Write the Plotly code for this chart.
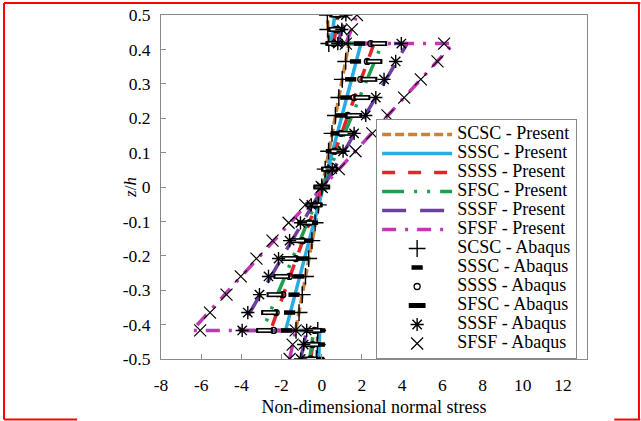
import plotly.graph_objects as go

# ---------------- data ----------------
z_line = [-0.5, -0.417, -0.417, 0.417, 0.417, 0.5]
z_abaqus = [-0.5, -0.458, -0.417,
            -0.417, -0.365, -0.313, -0.26, -0.208, -0.156, -0.104, -0.052, 0.0,
            0.052, 0.104, 0.156, 0.208, 0.26, 0.313, 0.365, 0.417,
            0.417, 0.458, 0.5]

scsc_present = [-0.25, -0.20, -1.30, 1.35, 0.35, 0.28]
sssc_present = [-0.15, -0.10, -1.80, 1.95, 0.45, 0.65]
ssss_present = [-0.55, -0.35, -2.55, 2.60, 0.60, 0.80]
sfsc_present = [-0.60, -0.40, -2.95, 3.00, 0.65, 0.85]
sssf_present = [-1.05, -0.75, -4.10, 4.25, 0.80, 1.20]
sfsf_present = [-1.60, -1.30, -6.45, 6.55, 1.20, 1.75]

scsc_abaqus = [-0.25, -0.22, -0.20,
               -1.28, -1.13, -0.97, -0.81, -0.65, -0.49, -0.33, -0.17, 0.0,
               0.17, 0.34, 0.51, 0.68, 0.85, 1.02, 1.19, 1.33,
               0.35, 0.30, 0.28]
sssc_abaqus = [-0.15, -0.12, -0.10,
               -1.75, -1.60, -1.38, -1.15, -0.92, -0.69, -0.46, -0.23, 0.0,
               0.24, 0.48, 0.72, 0.96, 1.20, 1.44, 1.68, 1.88,
               0.45, 0.55, 0.65]
ssss_abaqus = [-0.55, -0.45, -0.35,
               -2.40, -2.27, -1.94, -1.61, -1.29, -0.96, -0.64, -0.32, 0.0,
               0.32, 0.64, 0.96, 1.29, 1.61, 1.94, 2.27, 2.44,
               0.60, 0.70, 0.80]
sfsc_abaqus = [-0.60, -0.50, -0.40,
               -2.85, -2.60, -2.33, -1.99, -1.60, -1.20, -0.80, -0.40, 0.0,
               0.40, 0.80, 1.20, 1.60, 2.00, 2.35, 2.60, 2.84,
               0.65, 0.75, 0.85]
sssf_abaqus = [-1.05, -0.90, -0.75,
               -3.96, -3.68, -3.10, -2.65, -2.15, -1.60, -1.06, -0.52, 0.0,
               0.52, 1.06, 1.61, 2.19, 2.69, 3.10, 3.68, 3.96,
               0.80, 1.00, 1.20]
sfsf_abaqus = [-1.60, -1.45, -1.30,
               -6.05, -5.56, -4.74, -4.03, -3.25, -2.45, -1.65, -0.82, 0.0,
               0.85, 1.68, 2.52, 3.27, 4.10, 4.93, 5.76, 6.09,
               1.20, 1.50, 1.75]

x_tickvals = [-8, -6, -4, -2, 0, 2, 4, 6, 8, 10, 12]
x_ticktext = ["-8", "-6", "-4", "-2", "0", "2", "4", "6", "8", "10", "12"]
y_tickvals = [-0.5, -0.4, -0.3, -0.2, -0.1, 0, 0.1, 0.2, 0.3, 0.4, 0.5]
y_ticktext = ["-0.5", "-0.4", "-0.3", "-0.2", "-0.1", "0", "0.1", "0.2", "0.3", "0.4", "0.5"]

FONT = "Liberation Serif"


def legend_label(s):
    return "<span style='font-size:18px'>" + s + "</span>"


present = [
    ("SCSC - Present", scsc_present, "#C8823C", "9px,4px"),
    ("SSSC - Present", sssc_present, "#2AACE2", "solid"),
    ("SSSS - Present", ssss_present, "#E1262B", "13px,13px"),
    ("SFSC - Present", sfsc_present, "#1E9E50", "22px,10px,3px,10px,3px,10px"),
    ("SSSF - Present", sssf_present, "#6C3FA0", "24px,14px"),
    ("SFSF - Present", sfsf_present, "#C236B6", "14px,9px,3px,9px"),
]

fig = go.Figure()
for name, xs, col, dash in present:
    fig.add_trace(go.Scatter(x=xs, y=z_line, mode="lines", name=legend_label(name),
                             line=dict(color=col, width=3.5, dash=dash)))

abaqus = [
    ("SCSC - Abaqus", scsc_abaqus, "cross-thin-open", 12, 1.4),
    ("SSSC - Abaqus", sssc_abaqus, "line-ew-open", 8, 4.5),
    ("SSSS - Abaqus", ssss_abaqus, "circle-open", 6, 1.3),
    ("SFSC - Abaqus", sfsc_abaqus, "line-ew-open", 12, 5),
    ("SSSF - Abaqus", sssf_abaqus, "asterisk-open", 11, 1.4),
    ("SFSF - Abaqus", sfsf_abaqus, "x-thin-open", 12, 1.2),
]
for name, xs, sym, size, lw in abaqus:
    fig.add_trace(go.Scatter(x=xs, y=z_abaqus, mode="markers", name=legend_label(name),
                             marker=dict(symbol=sym, size=size, color="black",
                                         line=dict(color="black", width=lw))))
    if name.startswith("SFSC"):
        fig.add_trace(go.Scatter(x=xs, y=z_abaqus, mode="markers", showlegend=False,
                                 hoverinfo="skip",
                                 marker=dict(symbol="line-ew-open", size=9, color="white",
                                             line=dict(color="white", width=1.8))))

axis_common = dict(showline=True, linecolor="#8A8A8A", linewidth=1, mirror=True,
                   ticks="inside", ticklen=5, tickcolor="#8A8A8A", showgrid=False,
                   zeroline=False, tickfont=dict(family=FONT, size=17.5, color="black"))

fig.update_xaxes(range=[-8, 13.2], tickvals=x_tickvals, ticktext=x_ticktext,
                 ticklabelstandoff=10,
                 title=dict(text="Non-dimensional normal stress",
                            font=dict(family=FONT, size=18, color="black"), standoff=6),
                 automargin=False, **axis_common)
fig.update_yaxes(range=[-0.5, 0.5], tickvals=y_tickvals, ticktext=y_ticktext,
                 ticklabelstandoff=6,
                 automargin=False, **axis_common)

shapes = [
    dict(type="line", xref="paper", yref="paper", x0=-0.3685, x1=1.125, y0=1.035, y1=1.035,
         line=dict(color="red", width=2)),
    dict(type="line", xref="paper", yref="paper", x0=-0.3685, x1=-0.3685, y0=1.035, y1=-0.176,
         line=dict(color="red", width=2)),
    dict(type="line", xref="paper", yref="paper", x0=1.122, x1=1.122, y0=1.035, y1=-0.176,
         line=dict(color="red", width=2)),
    dict(type="line", xref="paper", yref="paper", x0=-0.3685, x1=-0.197, y0=-0.176, y1=-0.176,
         line=dict(color="red", width=2)),
    dict(type="line", xref="paper", yref="paper", x0=1.064, x1=1.125, y0=-0.176, y1=-0.176,
         line=dict(color="red", width=2)),
]

fig.update_layout(
    width=641, height=421,
    margin=dict(l=161, r=54, t=15, b=62, autoexpand=False),
    plot_bgcolor="white", paper_bgcolor="white",
    font=dict(family=FONT, color="black"),
    shapes=shapes,
    legend=dict(x=0.505, y=0.0, xanchor="left", yanchor="bottom",
                bgcolor="white", bordercolor="#8A8A8A", borderwidth=1,
                font=dict(family=FONT, size=12, color="black"),
                itemwidth=70, tracegroupgap=0, entrywidth=130),
    annotations=[dict(text="<i>z</i>/<i>h</i>", xref="paper", yref="paper",
                      x=-0.073, y=0.5, xanchor="center", yanchor="middle",
                      textangle=-90, showarrow=False,
                      font=dict(family=FONT, size=17, color="black"))],
)

fig.write_html("out.html", config={"displayModeBar": False},
               post_script="document.body.style.margin='0px';")
